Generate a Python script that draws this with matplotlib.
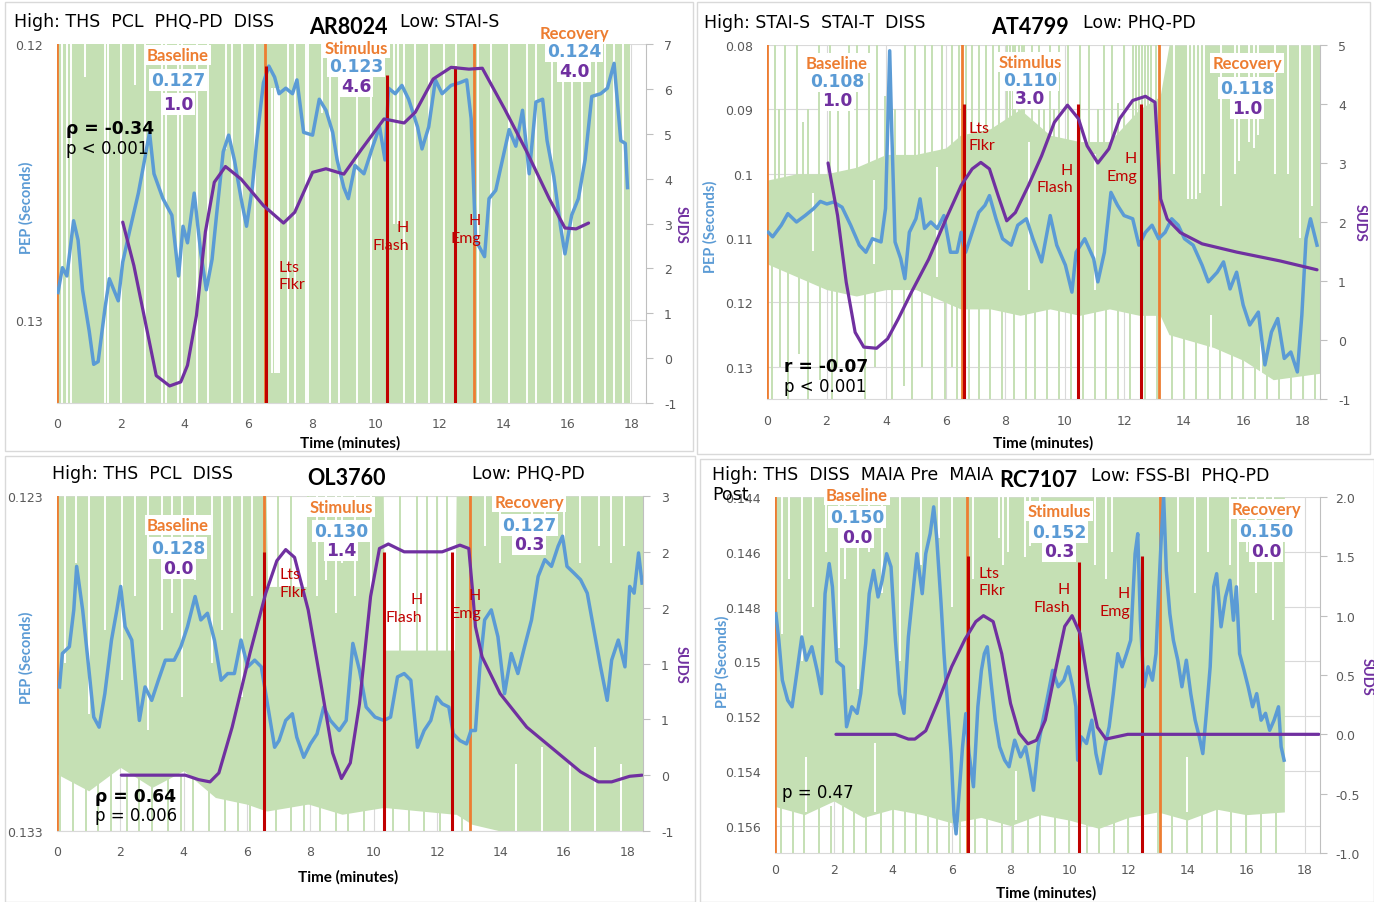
import numpy as np
import matplotlib.pyplot as plt
from matplotlib.patches import Rectangle
from matplotlib.ticker import FuncFormatter

W, H = 1374, 903

GREEN = '#C5E0B4'
BLUE = '#5B9BD5'
PURPLE = '#7030A0'
ORANGE = '#ED7D31'
RED = '#C00000'
GRID = '#D9D9D9'
TICK = '#595959'
AXIS = '#BFBFBF'

# ---------------- AR8024 ----------------
ar_pep_t = [0.03, 0.17, 0.31, 0.52, 0.66, 0.80, 1.01, 1.15, 1.29, 1.50, 1.64, 1.92, 2.06, 2.27, 2.55, 2.76,
            2.90, 3.04, 3.32, 3.60, 3.81, 3.95, 4.09, 4.30, 4.51, 4.68, 4.86, 5.00, 5.21, 5.38, 5.56, 5.77,
            5.94, 6.12, 6.26, 6.47, 6.64, 6.82, 6.96, 7.17, 7.38, 7.52, 7.73, 8.01, 8.22, 8.43, 8.64, 8.78,
            8.99, 9.13, 9.34, 9.62, 9.90, 10.11, 10.28, 10.39, 10.60, 10.81, 11.02, 11.30, 11.44, 11.65,
            11.86, 12.07, 12.35, 12.63, 12.84, 12.98, 13.12, 13.26, 13.40, 13.54, 13.75, 13.96, 14.17, 14.38,
            14.59, 14.80, 15.01, 15.22, 15.36, 15.57, 15.78, 15.92, 16.13, 16.34, 16.55, 16.76, 17.04, 17.25,
            17.46, 17.67, 17.81, 17.88]
ar_pep = [0.1290, 0.1281, 0.1284, 0.1264, 0.1271, 0.1289, 0.1304, 0.1316, 0.1315, 0.1296, 0.1285, 0.1293,
          0.1279, 0.1268, 0.1254, 0.1241, 0.1232, 0.1247, 0.1256, 0.1262, 0.1284, 0.1266, 0.1272, 0.1254,
          0.1276, 0.1289, 0.1278, 0.1262, 0.1239, 0.1233, 0.1242, 0.1256, 0.1266, 0.1252, 0.1235, 0.1214,
          0.1208, 0.1212, 0.1218, 0.1216, 0.1218, 0.1213, 0.1232, 0.1233, 0.1220, 0.1224, 0.1232, 0.1242,
          0.1252, 0.1256, 0.1244, 0.1247, 0.1237, 0.1230, 0.1242, 0.1216, 0.1218, 0.1215, 0.1220, 0.1230,
          0.1238, 0.1230, 0.1213, 0.1218, 0.1215, 0.1214, 0.1213, 0.1227, 0.1271, 0.1274, 0.1277, 0.1256,
          0.1253, 0.1242, 0.1231, 0.1237, 0.1224, 0.1247, 0.1221, 0.1220, 0.1235, 0.1248, 0.1266, 0.1276,
          0.1262, 0.1256, 0.1242, 0.1219, 0.1218, 0.1216, 0.1207, 0.1235, 0.1236, 0.1252]
ar_suds_t = [2.06, 2.41, 2.83, 3.11, 3.53, 3.88, 4.09, 4.37, 4.65, 4.93, 5.28, 5.77, 6.47, 7.10, 7.45, 8.01,
             8.43, 8.99, 9.55, 10.25, 10.88, 11.23, 11.79, 12.35, 12.91, 13.33, 14.03, 14.73, 15.43, 15.92,
             16.27, 16.66]
ar_suds = [3.03, 2.06, 0.59, -0.39, -0.62, -0.53, -0.16, 0.95, 2.81, 3.92, 4.27, 3.99, 3.40, 3.01, 3.25,
           4.14, 4.22, 4.10, 4.66, 5.33, 5.24, 5.48, 6.22, 6.48, 6.44, 6.46, 5.55, 4.59, 3.55, 2.90, 2.88, 3.01]
ar_band_t = [0.0, 17.95]
ar_band_top = [0.120, 0.120]
ar_band_bot = [0.133, 0.133]
ar_gaps = [(0.17, 0.120, 0.133), (0.31, 0.120, 0.133), (0.45, 0.120, 0.133), (0.88, 0.120, 0.1212),
           (1.50, 0.120, 0.133), (1.61, 0.120, 0.133), (2.00, 0.120, 0.133), (2.45, 0.120, 0.1215),
           (2.76, 0.120, 0.133), (3.28, 0.120, 0.133), (3.42, 0.120, 0.133), (3.80, 0.120, 0.133),
           (3.91, 0.120, 0.133), (4.38, 0.120, 0.133), (4.74, 0.120, 0.133), (5.30, 0.120, 0.1238),
           (5.48, 0.120, 0.133), (5.79, 0.120, 0.133), (6.21, 0.120, 0.133), (6.75, 0.1216, 0.1319),
           (6.82, 0.1216, 0.1319), (6.90, 0.1216, 0.1319), (6.97, 0.1216, 0.1319), (7.25, 0.120, 0.133),
           (7.46, 0.120, 0.133), (7.80, 0.120, 0.133), (7.88, 0.120, 0.133), (8.30, 0.120, 0.1225),
           (8.57, 0.120, 0.133), (8.85, 0.120, 0.133), (9.41, 0.120, 0.133), (9.83, 0.120, 0.133),
           (10.55, 0.120, 0.1265), (10.70, 0.120, 0.1265), (10.88, 0.120, 0.133), (11.23, 0.120, 0.133),
           (11.65, 0.120, 0.133), (12.14, 0.120, 0.133), (12.49, 0.120, 0.133), (13.19, 0.120, 0.133),
           (13.61, 0.120, 0.133), (14.17, 0.120, 0.133), (14.73, 0.120, 0.133), (15.00, 0.120, 0.133),
           (15.50, 0.120, 0.133), (15.85, 0.120, 0.133), (16.13, 0.120, 0.133), (16.45, 0.120, 0.133),
           (16.90, 0.120, 0.133), (17.17, 0.120, 0.133), (17.45, 0.120, 0.133), (17.73, 0.120, 0.133)]
ar_spikes = []
ar_phase_pep = [0.127, 0.123, 0.124]
ar_phase_suds = [1.0, 4.6, 4.0]
ar_phase_t = [0.0, 6.52, 13.07]
ar_event_t = [6.55, 10.33, 12.46]
ar_event_top = [6.5, 6.3, 6.5]

# ---------------- AT4799 ----------------
at_pep_t = [0.04, 0.19, 0.48, 0.70, 0.99, 1.28, 1.57, 1.79, 2.01, 2.23, 2.52, 2.81, 3.10, 3.32, 3.54, 3.83,
            3.98, 4.05, 4.12, 4.19, 4.30, 4.49, 4.63, 4.78, 5.00, 5.14, 5.29, 5.50, 5.72, 5.94, 6.16, 6.38,
            6.52, 6.67, 6.89, 7.11, 7.32, 7.47, 7.69, 7.91, 8.20, 8.42, 8.71, 8.93, 9.22, 9.51, 9.73, 10.02,
            10.24, 10.38, 10.67, 10.97, 11.11, 11.33, 11.55, 11.77, 11.99, 12.28, 12.49, 12.71, 12.93, 13.15,
            13.37, 13.59, 13.81, 14.02, 14.31, 14.61, 14.82, 15.12, 15.33, 15.55, 15.77, 15.99, 16.21, 16.50,
            16.72, 16.94, 17.15, 17.37, 17.59, 17.81, 17.96, 18.10, 18.25, 18.47]
at_pep = [0.1091, 0.1098, 0.1080, 0.1062, 0.1075, 0.1065, 0.1054, 0.1043, 0.1047, 0.1044, 0.1052, 0.1080,
          0.1111, 0.1122, 0.1101, 0.1106, 0.1054, 0.0935, 0.0809, 0.0935, 0.1106, 0.1132, 0.1163, 0.1091,
          0.1070, 0.1039, 0.1085, 0.1075, 0.1085, 0.1065, 0.1122, 0.1122, 0.1091, 0.1122, 0.1091, 0.1060,
          0.1049, 0.1034, 0.1070, 0.1101, 0.1111, 0.1080, 0.1070, 0.1101, 0.1137, 0.1065, 0.1111, 0.1142,
          0.1184, 0.1122, 0.1101, 0.1132, 0.1168, 0.1122, 0.1029, 0.1049, 0.1065, 0.1070, 0.1111, 0.1091,
          0.1080, 0.1101, 0.1091, 0.1070, 0.1080, 0.1101, 0.1111, 0.1142, 0.1168, 0.1153, 0.1137, 0.1179,
          0.1153, 0.1204, 0.1235, 0.1215, 0.1297, 0.1246, 0.1225, 0.1287, 0.1277, 0.1308, 0.1220, 0.1101,
          0.1070, 0.1111]
at_suds_t = [2.05, 2.37, 2.66, 2.96, 3.25, 3.68, 4.05, 4.41, 4.85, 5.43, 6.01, 6.52, 6.89, 7.18, 7.47, 7.76,
             8.05, 8.34, 8.78, 9.22, 9.65, 10.09, 10.46, 10.75, 11.11, 11.48, 11.84, 12.28, 12.71, 13.03,
             13.12, 13.22, 13.44, 13.88, 14.61, 15.77, 17.23, 18.47]
at_suds = [3.0, 2.11, 0.98, 0.13, -0.12, -0.14, 0.02, 0.36, 0.81, 1.37, 2.05, 2.62, 2.90, 3.01, 2.90, 2.45,
           2.02, 2.16, 2.62, 3.12, 3.69, 3.98, 3.75, 3.29, 3.00, 3.24, 3.75, 4.06, 4.13, 4.03, 3.24, 2.39,
           2.05, 1.82, 1.63, 1.49, 1.34, 1.19]
at_band_t = [0.0, 1.0, 2.0, 3.0, 4.0, 5.0, 6.0, 6.5, 7.5, 8.5, 9.5, 10.5, 11.5, 12.5, 13.2, 13.5, 15.0,
             16.0, 17.0, 18.57]
at_band_top = [0.101, 0.100, 0.100, 0.099, 0.097, 0.097, 0.096, 0.094, 0.093, 0.090, 0.094, 0.095, 0.095,
               0.090, 0.088, 0.080, 0.080, 0.080, 0.080, 0.080]
at_band_bot = [0.114, 0.116, 0.118, 0.119, 0.118, 0.118, 0.120, 0.121, 0.121, 0.122, 0.121, 0.122, 0.121,
               0.122, 0.122, 0.125, 0.127, 0.129, 0.132, 0.131]
at_gaps = [(13.68, 0.080, 0.100), (14.15, 0.080, 0.104), (14.28, 0.080, 0.104), (14.41, 0.080, 0.104),
           (14.55, 0.080, 0.103), (14.68, 0.080, 0.100), (15.25, 0.080, 0.105), (15.70, 0.080, 0.100),
           (15.85, 0.080, 0.098), (16.20, 0.080, 0.095), (16.35, 0.080, 0.096), (16.50, 0.080, 0.094),
           (17.05, 0.080, 0.100), (17.50, 0.080, 0.100), (17.90, 0.080, 0.110), (18.30, 0.080, 0.105),
           (14.90, 0.122, 0.128), (16.60, 0.126, 0.131), (1.55, 0.103, 0.112), (3.60, 0.101, 0.114),
           (5.70, 0.099, 0.116), (8.80, 0.095, 0.118), (11.00, 0.097, 0.118)]
at_spikes = [(0.26, 0.080, 0.101), (0.61, 0.080, 0.101), (1.00, 0.080, 0.101), (1.73, 0.080, 0.101),
             (2.12, 0.080, 0.101), (2.74, 0.080, 0.101), (3.02, 0.080, 0.101), (3.41, 0.080, 0.101),
             (3.69, 0.080, 0.101), (4.65, 0.080, 0.100), (4.98, 0.080, 0.100), (5.32, 0.080, 0.100),
             (5.54, 0.080, 0.100), (5.88, 0.080, 0.100), (6.22, 0.080, 0.100), (6.44, 0.080, 0.100),
             (6.67, 0.080, 0.098), (6.89, 0.080, 0.098), (7.12, 0.080, 0.098), (7.34, 0.080, 0.098),
             (7.60, 0.080, 0.098), (7.79, 0.080, 0.098), (8.05, 0.080, 0.098), (8.15, 0.080, 0.098),
             (8.25, 0.080, 0.098), (8.34, 0.080, 0.098), (8.45, 0.080, 0.098), (8.55, 0.080, 0.098),
             (8.64, 0.080, 0.098), (8.90, 0.080, 0.098), (9.15, 0.080, 0.098), (9.50, 0.080, 0.098),
             (9.80, 0.080, 0.098), (10.10, 0.080, 0.098), (10.50, 0.080, 0.099), (10.80, 0.080, 0.099),
             (11.30, 0.080, 0.099), (11.60, 0.080, 0.099), (11.98, 0.080, 0.099), (12.30, 0.080, 0.099),
             (12.40, 0.080, 0.099), (12.50, 0.080, 0.099), (12.60, 0.080, 0.099), (12.70, 0.080, 0.099),
             (12.80, 0.080, 0.099), (12.90, 0.080, 0.099), (13.05, 0.080, 0.099),
             (0.40, 0.090, 0.101), (1.20, 0.092, 0.101), (1.39, 0.090, 0.101), (2.40, 0.090, 0.101),
             (3.97, 0.088, 0.101), (4.30, 0.090, 0.100), (5.10, 0.090, 0.100), (9.30, 0.089, 0.098),
             (9.65, 0.090, 0.098), (11.10, 0.090, 0.099), (11.80, 0.089, 0.099),
             (0.16, 0.114, 0.135), (0.72, 0.114, 0.135), (1.39, 0.114, 0.135), (2.18, 0.117, 0.135),
             (3.30, 0.117, 0.135), (4.20, 0.117, 0.135), (4.87, 0.117, 0.135), (5.54, 0.117, 0.135),
             (5.99, 0.117, 0.135), (6.39, 0.117, 0.135), (6.78, 0.120, 0.135), (7.12, 0.120, 0.135),
             (7.50, 0.120, 0.135), (7.90, 0.120, 0.135), (8.30, 0.120, 0.135), (8.70, 0.120, 0.135),
             (9.00, 0.120, 0.135), (9.40, 0.120, 0.135), (9.80, 0.120, 0.135), (10.20, 0.120, 0.135),
             (10.60, 0.120, 0.135), (11.00, 0.120, 0.135), (11.40, 0.120, 0.135), (11.80, 0.120, 0.135),
             (12.20, 0.120, 0.135), (12.70, 0.120, 0.135), (13.10, 0.120, 0.135), (13.60, 0.125, 0.135),
             (14.00, 0.125, 0.135), (14.40, 0.125, 0.135), (14.80, 0.125, 0.135), (15.20, 0.125, 0.135),
             (15.60, 0.125, 0.135), (16.00, 0.128, 0.135), (16.40, 0.128, 0.135), (16.80, 0.128, 0.135),
             (17.20, 0.130, 0.135), (17.60, 0.130, 0.135), (18.00, 0.130, 0.135), (18.40, 0.130, 0.135),
             (0.44, 0.114, 0.130), (1.06, 0.114, 0.128), (1.78, 0.114, 0.132), (2.35, 0.117, 0.130),
             (3.64, 0.117, 0.130), (4.59, 0.117, 0.133), (5.21, 0.117, 0.130), (6.22, 0.117, 0.130)]
at_phase_pep = [0.108, 0.110, 0.118]
at_phase_suds = [1.0, 3.0, 1.0]
at_phase_t = [0.0, 6.56, 13.16]
at_event_t = [6.60, 10.43, 12.55]
at_event_top = [4.0, 4.0, 4.0]

# ---------------- OL3760 ----------------
ol_pep_t = [0.08, 0.17, 0.39, 0.53, 0.62, 0.81, 1.02, 1.16, 1.33, 1.51, 1.72, 1.89, 2.01, 2.15, 2.36, 2.60,
            2.78, 2.99, 3.20, 3.42, 3.70, 3.91, 4.12, 4.36, 4.54, 4.75, 4.97, 5.18, 5.39, 5.60, 5.81, 6.02,
            6.24, 6.45, 6.59, 6.73, 6.87, 7.01, 7.22, 7.43, 7.57, 7.79, 8.00, 8.21, 8.42, 8.63, 8.91, 9.13,
            9.34, 9.55, 9.76, 10.04, 10.32, 10.53, 10.75, 10.96, 11.17, 11.38, 11.59, 11.80, 11.99, 12.16,
            12.37, 12.51, 12.72, 12.93, 13.07, 13.21, 13.35, 13.50, 13.71, 13.92, 14.13, 14.34, 14.55, 14.76,
            14.98, 15.19, 15.40, 15.61, 15.82, 15.96, 16.10, 16.32, 16.53, 16.74, 16.95, 17.16, 17.37, 17.51,
            17.72, 17.93, 18.08, 18.22, 18.36, 18.47]
ol_pep = [0.1287, 0.1277, 0.1275, 0.1264, 0.1251, 0.1264, 0.1283, 0.1296, 0.1299, 0.1289, 0.1273, 0.1264,
          0.1257, 0.1269, 0.1273, 0.1297, 0.1287, 0.1291, 0.1285, 0.1279, 0.1279, 0.1275, 0.1269, 0.1260,
          0.1267, 0.1265, 0.1273, 0.1285, 0.1283, 0.1283, 0.1273, 0.1281, 0.1279, 0.1281, 0.1289, 0.1297,
          0.1305, 0.1303, 0.1297, 0.1295, 0.1302, 0.1308, 0.1304, 0.1301, 0.1293, 0.1297, 0.1300, 0.1297,
          0.1274, 0.1282, 0.1293, 0.1296, 0.1297, 0.1296, 0.1284, 0.1283, 0.1285, 0.1305, 0.1300, 0.1297,
          0.1290, 0.1292, 0.1293, 0.1301, 0.1303, 0.1304, 0.1300, 0.1300, 0.1281, 0.1267, 0.1264, 0.1272,
          0.1289, 0.1277, 0.1283, 0.1275, 0.1267, 0.1254, 0.1249, 0.1251, 0.1245, 0.1242, 0.1251, 0.1253,
          0.1255, 0.1259, 0.1270, 0.1281, 0.1291, 0.1279, 0.1273, 0.1281, 0.1257, 0.1259, 0.1247, 0.1256]
ol_suds_t = [2.03, 4.05, 4.47, 4.83, 5.11, 5.53, 6.09, 6.59, 6.94, 7.22, 7.50, 7.93, 8.35, 8.70, 8.98, 9.26,
             9.55, 9.90, 10.18, 10.46, 10.96, 12.16, 12.72, 13.00, 13.11, 13.21, 13.42, 13.99, 14.83, 15.68,
             16.53, 17.09, 17.51, 18.08, 18.47]
ol_suds = [0.0, 0.0, -0.04, -0.06, 0.02, 0.43, 1.09, 1.63, 1.92, 2.02, 1.95, 1.48, 0.79, 0.20, -0.03, 0.11,
           0.64, 1.60, 2.03, 2.07, 2.00, 2.00, 2.06, 2.03, 1.68, 1.33, 1.06, 0.73, 0.43, 0.23, 0.03, -0.06,
           -0.06, -0.01, 0.0]
ol_band_t = [0.0, 1.0, 2.0, 3.0, 4.0, 5.0, 6.0, 6.6, 6.65, 7.9, 7.95, 9.0, 10.3, 10.35, 12.55, 12.6, 13.1,
             14.0, 15.0, 16.0, 17.0, 18.5]
ol_band_top = [0.123, 0.123, 0.123, 0.123, 0.123, 0.123, 0.123, 0.123, 0.1257, 0.1257, 0.123, 0.123, 0.123,
               0.1276, 0.1276, 0.123, 0.123, 0.123, 0.123, 0.123, 0.123, 0.123]
ol_band_bot = [0.1313, 0.1318, 0.1311, 0.1317, 0.1312, 0.1320, 0.1322, 0.1324, 0.1324, 0.1322, 0.1322,
               0.1325, 0.1323, 0.1323, 0.1325, 0.1325, 0.1328, 0.1330, 0.1330, 0.1330, 0.1330, 0.1330]
ol_gaps = [(0.25, 0.123, 0.128), (0.60, 0.123, 0.125), (1.00, 0.123, 0.1295), (1.52, 0.123, 0.127),
           (2.04, 0.123, 0.1285), (2.46, 0.123, 0.126), (2.88, 0.123, 0.130), (3.31, 0.123, 0.127),
           (3.62, 0.123, 0.1265), (3.94, 0.123, 0.129), (4.36, 0.123, 0.1255), (4.88, 0.123, 0.128),
           (5.20, 0.123, 0.127), (5.52, 0.123, 0.1265), (5.83, 0.123, 0.129), (6.15, 0.123, 0.126),
           (8.20, 0.123, 0.126), (8.50, 0.123, 0.1255), (8.80, 0.123, 0.1265), (9.00, 0.123, 0.125),
           (9.40, 0.123, 0.126), (9.90, 0.123, 0.1258),
           (13.50, 0.123, 0.1245), (14.00, 0.123, 0.125), (15.00, 0.123, 0.1245), (15.40, 0.123, 0.1245),
           (16.00, 0.123, 0.1245), (16.50, 0.123, 0.125), (17.10, 0.123, 0.1245), (17.50, 0.123, 0.125),
           (17.90, 0.123, 0.1245),
           (14.50, 0.131, 0.133), (15.30, 0.1305, 0.133), (16.20, 0.131, 0.133), (17.00, 0.1305, 0.133),
           (17.80, 0.131, 0.133)]
ol_spikes = [(0.10, 0.1313, 0.133), (0.50, 0.1313, 0.133), (0.90, 0.1313, 0.133), (1.30, 0.1313, 0.133),
             (1.70, 0.1313, 0.133), (2.20, 0.1313, 0.133), (2.60, 0.1313, 0.133), (3.00, 0.1313, 0.133),
             (3.50, 0.1313, 0.133), (3.90, 0.1313, 0.133), (4.30, 0.1313, 0.133), (4.80, 0.1313, 0.133),
             (5.30, 0.132, 0.133), (5.70, 0.132, 0.133), (6.10, 0.132, 0.133), (6.90, 0.1322, 0.133),
             (7.40, 0.1322, 0.133), (7.80, 0.1322, 0.133), (8.30, 0.1322, 0.133), (8.80, 0.1322, 0.133),
             (9.20, 0.1322, 0.133), (9.70, 0.1322, 0.133), (10.60, 0.1322, 0.133), (11.10, 0.1322, 0.133),
             (11.60, 0.1322, 0.133), (12.10, 0.1322, 0.133), (12.80, 0.1322, 0.133),
             (6.97, 0.123, 0.126), (7.39, 0.123, 0.126), (7.92, 0.123, 0.126), (10.83, 0.123, 0.128),
             (11.36, 0.123, 0.128), (11.67, 0.123, 0.128), (11.99, 0.123, 0.128), (12.30, 0.123, 0.128)]
ol_phase_pep = [0.128, 0.130, 0.127]
ol_phase_suds = [0.0, 1.4, 0.3]
ol_phase_t = [0.0, 6.52, 13.04]
ol_event_t = [6.55, 10.32, 12.47]
ol_event_top = [2.0, 2.0, 2.0]

# ---------------- RC7107 ----------------
rc_pep_t = [0.03, 0.13, 0.25, 0.43, 0.58, 0.77, 0.91, 1.06, 1.25, 1.43, 1.58, 1.70, 1.84, 1.95, 2.10, 2.32,
            2.43, 2.61, 2.79, 2.91, 3.08, 3.20, 3.35, 3.50, 3.64, 3.79, 3.94, 4.09, 4.23, 4.38, 4.53, 4.68,
            4.82, 5.00, 5.12, 5.27, 5.39, 5.49, 5.64, 5.74, 5.86, 5.98, 6.08, 6.15, 6.27, 6.37, 6.48, 6.59,
            6.74, 6.89, 7.01, 7.11, 7.21, 7.33, 7.48, 7.63, 7.80, 7.95, 8.14, 8.34, 8.51, 8.66, 8.78, 8.93,
            9.10, 9.28, 9.43, 9.62, 9.81, 9.96, 10.11, 10.22, 10.28, 10.40, 10.58, 10.76, 10.90, 11.05, 11.20,
            11.35, 11.49, 11.64, 11.79, 11.94, 12.08, 12.23, 12.32, 12.41, 12.53, 12.67, 12.82, 12.94, 13.03,
            13.12, 13.20, 13.29, 13.41, 13.53, 13.68, 13.82, 13.97, 14.12, 14.27, 14.41, 14.53, 14.65, 14.78,
            14.90, 15.00, 15.15, 15.30, 15.45, 15.57, 15.67, 15.78, 15.93, 16.07, 16.22, 16.36, 16.51, 16.66,
            16.80, 16.95, 17.10, 17.19, 17.29]
rc_pep = [0.14826, 0.14923, 0.15069, 0.15142, 0.15166, 0.15020, 0.14911, 0.14996, 0.14947, 0.15033, 0.15118,
          0.14753, 0.14643, 0.14728, 0.15000, 0.15020, 0.15239, 0.15166, 0.15190, 0.15118, 0.14935, 0.14753,
          0.14668, 0.14765, 0.14704, 0.14607, 0.14655, 0.14923, 0.15118, 0.15190, 0.14911, 0.14753, 0.14607,
          0.14753, 0.14607, 0.14534, 0.14436, 0.14546, 0.14789, 0.14972, 0.15154, 0.15337, 0.15560, 0.15630,
          0.15458, 0.15312, 0.15191, 0.15337, 0.15458, 0.15166, 0.15033, 0.14972, 0.14947, 0.15069, 0.15215,
          0.15312, 0.15361, 0.15385, 0.15288, 0.15349, 0.15312, 0.15397, 0.15471, 0.15312, 0.15215, 0.15118,
          0.15033, 0.15093, 0.15069, 0.15020, 0.15093, 0.15166, 0.15361, 0.15276, 0.15300, 0.15215, 0.15337,
          0.15410, 0.15312, 0.15239, 0.15118, 0.14972, 0.15020, 0.14972, 0.14923, 0.14607, 0.14534, 0.14850,
          0.15093, 0.15020, 0.15069, 0.14972, 0.14753, 0.14546, 0.14400, 0.14668, 0.14826, 0.14923, 0.14996,
          0.15093, 0.14996, 0.15118, 0.15215, 0.15276, 0.15337, 0.15190, 0.15020, 0.14728, 0.14680, 0.14874,
          0.14765, 0.14704, 0.14850, 0.14728, 0.14972, 0.15033, 0.15093, 0.15166, 0.15118, 0.15215, 0.15190,
          0.15252, 0.15215, 0.15166, 0.15312, 0.15361]
rc_suds_t = [2.07, 4.09, 4.53, 4.75, 5.12, 5.56, 6.00, 6.45, 6.82, 7.08, 7.41, 7.70, 8.00, 8.29, 8.59, 8.88,
             9.18, 9.55, 9.84, 10.09, 10.36, 10.65, 10.95, 11.24, 11.61, 11.98, 13.53, 18.47]
rc_suds = [0.0, 0.0, -0.04, -0.04, 0.03, 0.29, 0.57, 0.80, 0.95, 1.0, 0.95, 0.68, 0.26, 0.01, -0.08, -0.05,
           0.12, 0.57, 0.91, 1.0, 0.85, 0.40, 0.06, -0.04, -0.02, 0.0, 0.0, 0.0]
rc_band_t = [0.0, 1.0, 2.0, 3.0, 4.0, 5.0, 6.0, 7.0, 8.0, 9.0, 10.0, 11.0, 12.0, 13.0, 14.0, 15.0, 16.0, 17.3]
rc_band_top = [0.144] * 18
rc_band_bot = [0.1553, 0.1556, 0.1551, 0.1557, 0.1554, 0.1556, 0.1559, 0.1557, 0.1560, 0.1556, 0.1558,
               0.1561, 0.1557, 0.1555, 0.1558, 0.1554, 0.1556, 0.1555]
rc_gaps = [(0.25, 0.144, 0.149), (0.47, 0.144, 0.147), (0.91, 0.144, 0.150), (1.28, 0.144, 0.148),
           (1.73, 0.144, 0.146), (2.17, 0.144, 0.1495), (2.39, 0.144, 0.147), (2.83, 0.144, 0.151),
           (3.20, 0.144, 0.146), (3.64, 0.144, 0.1475), (4.23, 0.144, 0.150), (4.97, 0.144, 0.1465),
           (5.56, 0.144, 0.1455), (6.00, 0.144, 0.148), (6.74, 0.144, 0.147), (7.60, 0.144, 0.1455),
           (7.73, 0.144, 0.1465), (7.90, 0.144, 0.146), (8.50, 0.144, 0.1462), (8.65, 0.144, 0.1458),
           (9.00, 0.144, 0.1455), (10.87, 0.144, 0.1465), (11.24, 0.144, 0.147), (11.46, 0.144, 0.146),
           (13.68, 0.144, 0.146), (14.27, 0.144, 0.1475), (14.71, 0.144, 0.146), (15.45, 0.144, 0.1465),
           (15.74, 0.144, 0.148), (16.04, 0.144, 0.146), (16.34, 0.144, 0.1475), (16.63, 0.144, 0.146),
           (16.93, 0.144, 0.1485), (1.05, 0.1535, 0.1555), (3.40, 0.153, 0.1555), (8.20, 0.154, 0.1558),
           (14.00, 0.1535, 0.1555)]
rc_spikes = [(t, 0.1553, 0.157) for t in
             [0.2, 0.6, 1.0, 1.5, 1.9, 2.3, 2.7, 3.1, 3.6, 4.0, 4.4, 4.8, 5.2, 5.5, 5.9, 6.3, 6.8, 7.2, 7.7,
              8.1, 8.6, 9.0, 9.5, 10.0, 10.6, 11.0, 11.5, 12.0, 12.5, 13.0, 13.5, 14.0, 14.5, 15.0, 15.5,
              16.0, 16.5, 17.0]]
rc_phase_pep = [0.150, 0.152, 0.150]
rc_phase_suds = [0.0, 0.3, 0.0]
rc_phase_t = [0.0, 6.53, 13.06]
rc_event_t = [6.55, 10.34, 12.45]
rc_event_top = [1.5, 1.45, 1.5]

phase_names = ['Baseline', 'Stimulus', 'Recovery']
event_names = ['Lts\nFlkr', 'H\nFlash', 'H\nEmg']


def half_up(v, _):
    return str(int(np.sign(v) * np.floor(abs(v) + 0.5)))


panels = [
    dict(box=(57, 45, 646, 404), xmax=18.46, pep_lim=(0.133, 0.120), pep_ticks=[0.12, 0.13],
         suds_lim=(-1, 7), suds_ticks=np.arange(-1, 8, 1), suds_fmt=lambda v, _: f'{v:.0f}',
         xpad=10, rpad=8,
         pep_t=ar_pep_t, pep=ar_pep, suds_t=ar_suds_t, suds=ar_suds,
         band=(ar_band_t, ar_band_top, ar_band_bot), gaps=ar_gaps, spikes=ar_spikes,
         phase_t=ar_phase_t, phase_pep=ar_phase_pep, phase_suds=ar_phase_suds,
         event_t=ar_event_t, event_top=ar_event_top,
         high=(14, 22, 'High: THS  PCL  PHQ-PD  DISS'), pid=(348, 27, 'AR8024'),
         low=(400, 22, 'Low: STAI-S'),
         phase_xy=[(178, 56, 81, 105), (356, 49, 67, 87), (574, 34, 52, 72)],
         event_xy=[(279, 276.5, 'left'), (409, 236.7, 'right'), (481, 229.7, 'right')],
         stat=(66, 129.3, 149.3, '\u03c1 = -0.34', 'p < 0.001'),
         pep_lab=(26, 208), suds_lab=(681, 225), x_lab=(350, 443)),
    dict(box=(767, 46, 1320, 400), xmax=18.57, pep_lim=(0.135, 0.080),
         pep_ticks=[0.08, 0.09, 0.10, 0.11, 0.12, 0.13],
         suds_lim=(-1, 5), suds_ticks=np.arange(-1, 6, 1), suds_fmt=lambda v, _: f'{v:.0f}',
         xpad=11, rpad=8,
         pep_t=at_pep_t, pep=at_pep, suds_t=at_suds_t, suds=at_suds,
         band=(at_band_t, at_band_top, at_band_bot), gaps=at_gaps, spikes=at_spikes,
         phase_t=at_phase_t, phase_pep=at_phase_pep, phase_suds=at_phase_suds,
         event_t=at_event_t, event_top=at_event_top,
         high=(704, 23, 'High: STAI-S  STAI-T  DISS'), pid=(1030, 28, 'AT4799'),
         low=(1083, 23, 'Low: PHQ-PD'),
         phase_xy=[(837, 64, 82, 101), (1030, 63, 81, 99), (1247, 64, 89, 109)],
         event_xy=[(968, 137.5, 'left'), (1073, 179.5, 'right'), (1137, 168.3, 'right')],
         stat=(784, 366.7, 387, 'r = -0.07', 'p < 0.001'),
         pep_lab=(710, 227), suds_lab=(1360, 223), x_lab=(1043, 443)),
    dict(box=(57, 497, 643, 832), xmax=18.5, pep_lim=(0.133, 0.123), pep_ticks=[0.123, 0.133],
         suds_lim=(-0.5, 2.5), suds_ticks=np.arange(-0.5, 2.51, 0.5), suds_fmt=half_up,
         xpad=10, rpad=8,
         pep_t=ol_pep_t, pep=ol_pep, suds_t=ol_suds_t, suds=ol_suds,
         band=(ol_band_t, ol_band_top, ol_band_bot), gaps=ol_gaps, spikes=ol_spikes,
         phase_t=ol_phase_t, phase_pep=ol_phase_pep, phase_suds=ol_phase_suds,
         event_t=ol_event_t, event_top=ol_event_top,
         high=(52, 474, 'High: THS  PCL  DISS'), pid=(347, 479, 'OL3760'),
         low=(472, 474, 'Low: PHQ-PD'),
         phase_xy=[(178, 526, 549, 569), (341, 508, 532, 551), (529, 503, 526, 545)],
         event_xy=[(279.5, 584, 'left'), (422.5, 609, 'right'), (481, 605, 'right')],
         stat=(94.6, 796.7, 816, '\u03c1 = 0.64', 'p = 0.006'),
         pep_lab=(26, 658), suds_lab=(681, 665), x_lab=(348, 877)),
    dict(box=(775, 498, 1320, 854), xmax=18.51, pep_lim=(0.157, 0.144),
         pep_ticks=[0.144, 0.146, 0.148, 0.150, 0.152, 0.154, 0.156],
         suds_lim=(-1.0, 2.0), suds_ticks=np.arange(-1.0, 2.01, 0.5), suds_fmt=lambda v, _: f'{v:.1f}',
         xpad=7, rpad=6,
         pep_t=rc_pep_t, pep=rc_pep, suds_t=rc_suds_t, suds=rc_suds,
         band=(rc_band_t, rc_band_top, rc_band_bot), gaps=rc_gaps, spikes=rc_spikes,
         phase_t=rc_phase_t, phase_pep=rc_phase_pep, phase_suds=rc_phase_suds,
         event_t=rc_event_t, event_top=rc_event_top,
         high=(712, 476, 'High: THS  DISS  MAIA Pre  MAIA\nPost'), pid=(1038, 481, 'RC7107'),
         low=(1091, 476, 'Low: FSS-BI  PHQ-PD'),
         phase_xy=[(857, 496, 518, 538), (1059, 512, 533, 552), (1266, 510, 532, 552)],
         event_xy=[(979, 582.5, 'left'), (1070, 599, 'right'), (1130, 603, 'right')],
         stat=(782, None, 793, None, 'p = 0.47'),
         pep_lab=(722, 662), suds_lab=(1367, 677), x_lab=(1046, 893)),
]

frames = [(5, 3, 693, 452), (697, 3, 1370, 455), (5, 457, 695, 903), (700, 460, 1374, 903)]

fig = plt.figure(figsize=(W / 100, H / 100), dpi=100)


def fx(x):
    return x / W


def fy(y):
    return 1 - y / H


def put(x, y, s, **kw):
    kw.setdefault('va', 'center')
    kw.setdefault('ha', 'center')
    return fig.text(fx(x), fy(y), s, **kw)


for (x0, y0, x1, y1) in frames:
    fig.add_artist(Rectangle((fx(x0), fy(y1)), (x1 - x0) / W, (y1 - y0) / H, transform=fig.transFigure,
                             fill=False, ec=GRID, lw=1.0))

box = dict(boxstyle='square,pad=0.12', fc='white', ec='none')

for p in panels:
    l, t, r, b = p['box']
    ax = fig.add_axes([fx(l), fy(b), (r - l) / W, (b - t) / H])
    ax.set_xlim(0, p['xmax'])
    ax.set_ylim(*p['pep_lim'])
    ax.set_xticks(range(0, 19, 2))
    ax.set_yticks(p['pep_ticks'])
    ax.yaxis.set_major_formatter(FuncFormatter(lambda v, _: f'{v:g}'))
    ax.grid(True, color=GRID, lw=0.8)
    ax.set_axisbelow(True)
    for s in ('top', 'left', 'right'):
        ax.spines[s].set_visible(False)
    ax.spines['bottom'].set_color(GRID)
    ax.tick_params(axis='both', length=0, labelsize=9, labelcolor=TICK)
    ax.tick_params(axis='x', pad=p['xpad'])
    ax.tick_params(axis='y', pad=10)

    # raw beat-to-beat PEP: dense band, excursions and dropouts
    bt, btop, bbot = p['band']
    ax.fill_between(bt, btop, bbot, color=GREEN, lw=0, zorder=1)
    if p['spikes']:
        st, sa, sb = zip(*p['spikes'])
        ax.vlines(st, sa, sb, colors=GREEN, lw=1.4, zorder=1.1)
    if p['gaps']:
        gt, ga, gb = zip(*p['gaps'])
        ax.vlines(gt, ga, gb, colors='white', lw=1.4, zorder=1.2)

    for x in p['phase_t']:
        ax.axvline(x, color=ORANGE, lw=2.0, zorder=2)
    ax.plot(p['pep_t'], p['pep'], color=BLUE, lw=2.5, zorder=3, solid_joinstyle='round')

    ax2 = ax.twinx()
    ax2.set_ylim(*p['suds_lim'])
    ax2.set_yticks(p['suds_ticks'])
    ax2.yaxis.set_major_formatter(FuncFormatter(p['suds_fmt']))
    for s in ('top', 'left', 'bottom'):
        ax2.spines[s].set_visible(False)
    ax2.spines['right'].set_color(AXIS)
    ax2.tick_params(axis='y', length=5, color=AXIS, labelsize=9, labelcolor=TICK, pad=p['rpad'])
    ax2.vlines(p['event_t'], p['suds_lim'][0], p['event_top'], colors=RED, lw=2.2, zorder=2)
    ax2.plot(p['suds_t'], p['suds'], color=PURPLE, lw=2.3, zorder=4,
             solid_joinstyle='round', solid_capstyle='round')

    # header line
    hx, hy, hs = p['high']
    if '\n' in hs:
        put(hx, hy - 10, hs, ha='left', va='top', fontsize=12.5, color='black', family='DejaVu Sans',
            linespacing=1.15)
    else:
        put(hx, hy, hs, ha='left', fontsize=12.5, color='black', family='DejaVu Sans')
    ix, iy, ids = p['pid']
    put(ix, iy, ids, fontsize=15.5, weight='bold', family='Lato', color='black')
    lx, ly, ls = p['low']
    put(lx, ly, ls, ha='left', fontsize=12.5, family='DejaVu Sans', color='black')

    # phase annotations
    for name, (px, yn, yp, ys), mp, ms in zip(phase_names, p['phase_xy'], p['phase_pep'], p['phase_suds']):
        put(px, yn, name, fontsize=12, weight='bold', family='Lato', color=ORANGE, bbox=box)
        put(px, yp, f'{mp:.3f}', fontsize=12.3, weight='bold', family='DejaVu Sans', color=BLUE, bbox=box)
        put(px, ys, f'{ms:.1f}', fontsize=12.3, weight='bold', family='DejaVu Sans', color=PURPLE, bbox=box)

    # stimulus event labels
    for name, (ex, ey, al) in zip(event_names, p['event_xy']):
        put(ex, ey, name, ha=al, multialignment=al, fontsize=11.5, family='Lato', color=RED,
            linespacing=1.35)

    # correlation
    sx, sy1, sy2, s1, s2 = p['stat']
    if s1:
        put(sx, sy1, s1, ha='left', fontsize=12.3, weight='bold', family='DejaVu Sans', color='black')
    put(sx, sy2, s2, ha='left', fontsize=12, family='DejaVu Sans', color='black')

    put(*p['pep_lab'], 'PEP (Seconds)', rotation=90, fontsize=10.5, weight='bold', family='Lato', color=BLUE)
    put(*p['suds_lab'], 'SUDS', rotation=270, fontsize=10.5, weight='bold', family='Lato', color=PURPLE)
    put(*p['x_lab'], 'Time (minutes)', fontsize=11, weight='bold', family='Lato', color='black')

fig.savefig('out.png', dpi=100)
